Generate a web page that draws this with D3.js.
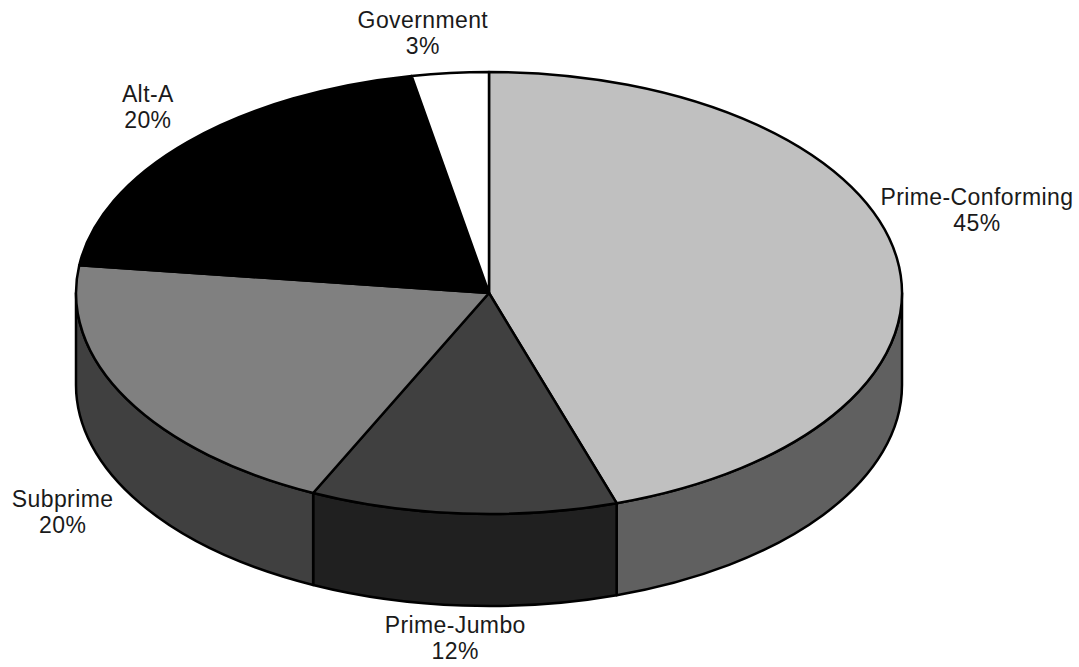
<!DOCTYPE html>
<html>
<head>
<meta charset="utf-8">
<script src="https://cdn.jsdelivr.net/npm/d3@7"></script>
<style>
  body { margin: 0; background: #fff; }
  svg { display: block; }
</style>
</head>
<body>
<div class="container"></div>
<script>
// datos
const categorias = ["Prime-Conforming", "Prime-Jumbo", "Subprime", "Alt-A", "Government"]
const porcentajes = [45, 12, 20, 20, 3]

// estilos
const coloresArriba = ["#c0c0c0", "#404040", "#808080", "#000000", "#ffffff"]
const coloresLado = ["#606060", "#202020", "#404040", "#000000", "#ffffff"]

// layout
const dimensiones = { WIDTH: 1079, HEIGHT: 667 }
const centro = { x: 489, y: 293 }
const radio = { x: 413, y: 221 }
const grosor = 92
const etiqueta = { x: 490, y: 262 }
// pequeños corrimientos de las etiquetas (como las dejo excel)
const ajusteEtiquetas = [[4, -42], [-3, -8], [3, 1], [16, -7], [-20, 1]]

const svg = d3.select(".container")
    .append("svg")
    .attr("width", dimensiones.WIDTH)
    .attr("height", dimensiones.HEIGHT)

const tabla = categorias.map((c, i) => ({
    categoria: c,
    valor: porcentajes[i],
    arriba: coloresArriba[i],
    lado: coloresLado[i],
    ajuste: ajusteEtiquetas[i]
}))

const pie = d3.pie()
    .sort(null)
    .value(d => d.valor)
    .startAngle(0)
    .endAngle(2 * Math.PI)

const rebanadas = pie(tabla)

// punto sobre la elipse, angulo en sentido horario desde las 12
const px = (a) => centro.x + radio.x * Math.sin(a)
const py = (a, dy = 0) => centro.y - radio.y * Math.cos(a) + dy

const caraArriba = (d) => {
    const large = (d.endAngle - d.startAngle) > Math.PI ? 1 : 0
    return `M${centro.x},${centro.y} L${px(d.startAngle)},${py(d.startAngle)} ` +
        `A${radio.x},${radio.y} 0 ${large} 1 ${px(d.endAngle)},${py(d.endAngle)} Z`
}

const caraLado = (d) => {
    // solo la parte del frente (de 90 a 270 grados)
    const a = Math.max(d.startAngle, Math.PI / 2)
    const b = Math.min(d.endAngle, 3 * Math.PI / 2)
    if (b <= a) return null
    return `M${px(a)},${py(a)} A${radio.x},${radio.y} 0 0 1 ${px(b)},${py(b)} ` +
        `L${px(b)},${py(b, grosor)} A${radio.x},${radio.y} 0 0 0 ${px(a)},${py(a, grosor)} Z`
}

const lados = svg.append("g").attr("class", "lados")
lados.selectAll("path")
    .data(rebanadas.filter(d => caraLado(d) !== null))
    .join("path")
    .attr("d", caraLado)
    .attr("fill", d => d.data.lado)
    .attr("stroke", "#000")
    .attr("stroke-width", 2.5)
    .attr("stroke-linejoin", "round")

const arriba = svg.append("g").attr("class", "arriba")
arriba.selectAll("path")
    .data(rebanadas)
    .join("path")
    .attr("d", caraArriba)
    .attr("fill", d => d.data.arriba)
    .attr("stroke", "#000")
    .attr("stroke-width", 2.5)
    .attr("stroke-linejoin", "round")

// etiquetas
const textos = svg.append("g").attr("class", "etiquetas")
const medio = (d) => (d.startAngle + d.endAngle) / 2

const grupos = textos.selectAll("text")
    .data(rebanadas)
    .join("text")
    .attr("text-anchor", "middle")
    .style("font-family", "'Liberation Sans', Arial, Helvetica, sans-serif")
    .style("font-size", "23px")
    .style("letter-spacing", "0.4px")
    .attr("fill", "#1a1a1a")
    .attr("transform", d => {
        const a = medio(d)
        const x = centro.x + etiqueta.x * Math.sin(a) + d.data.ajuste[0]
        const y = centro.y - etiqueta.y * Math.cos(a) + (Math.cos(a) < 0 ? grosor : 0) + d.data.ajuste[1]
        return `translate(${x} ${y})`
    })

grupos.append("tspan")
    .attr("x", 0)
    .attr("y", -5)
    .text(d => d.data.categoria)

grupos.append("tspan")
    .attr("x", 0)
    .attr("y", 21)
    .text(d => d.data.valor + "%")
</script>
</body>
</html>
